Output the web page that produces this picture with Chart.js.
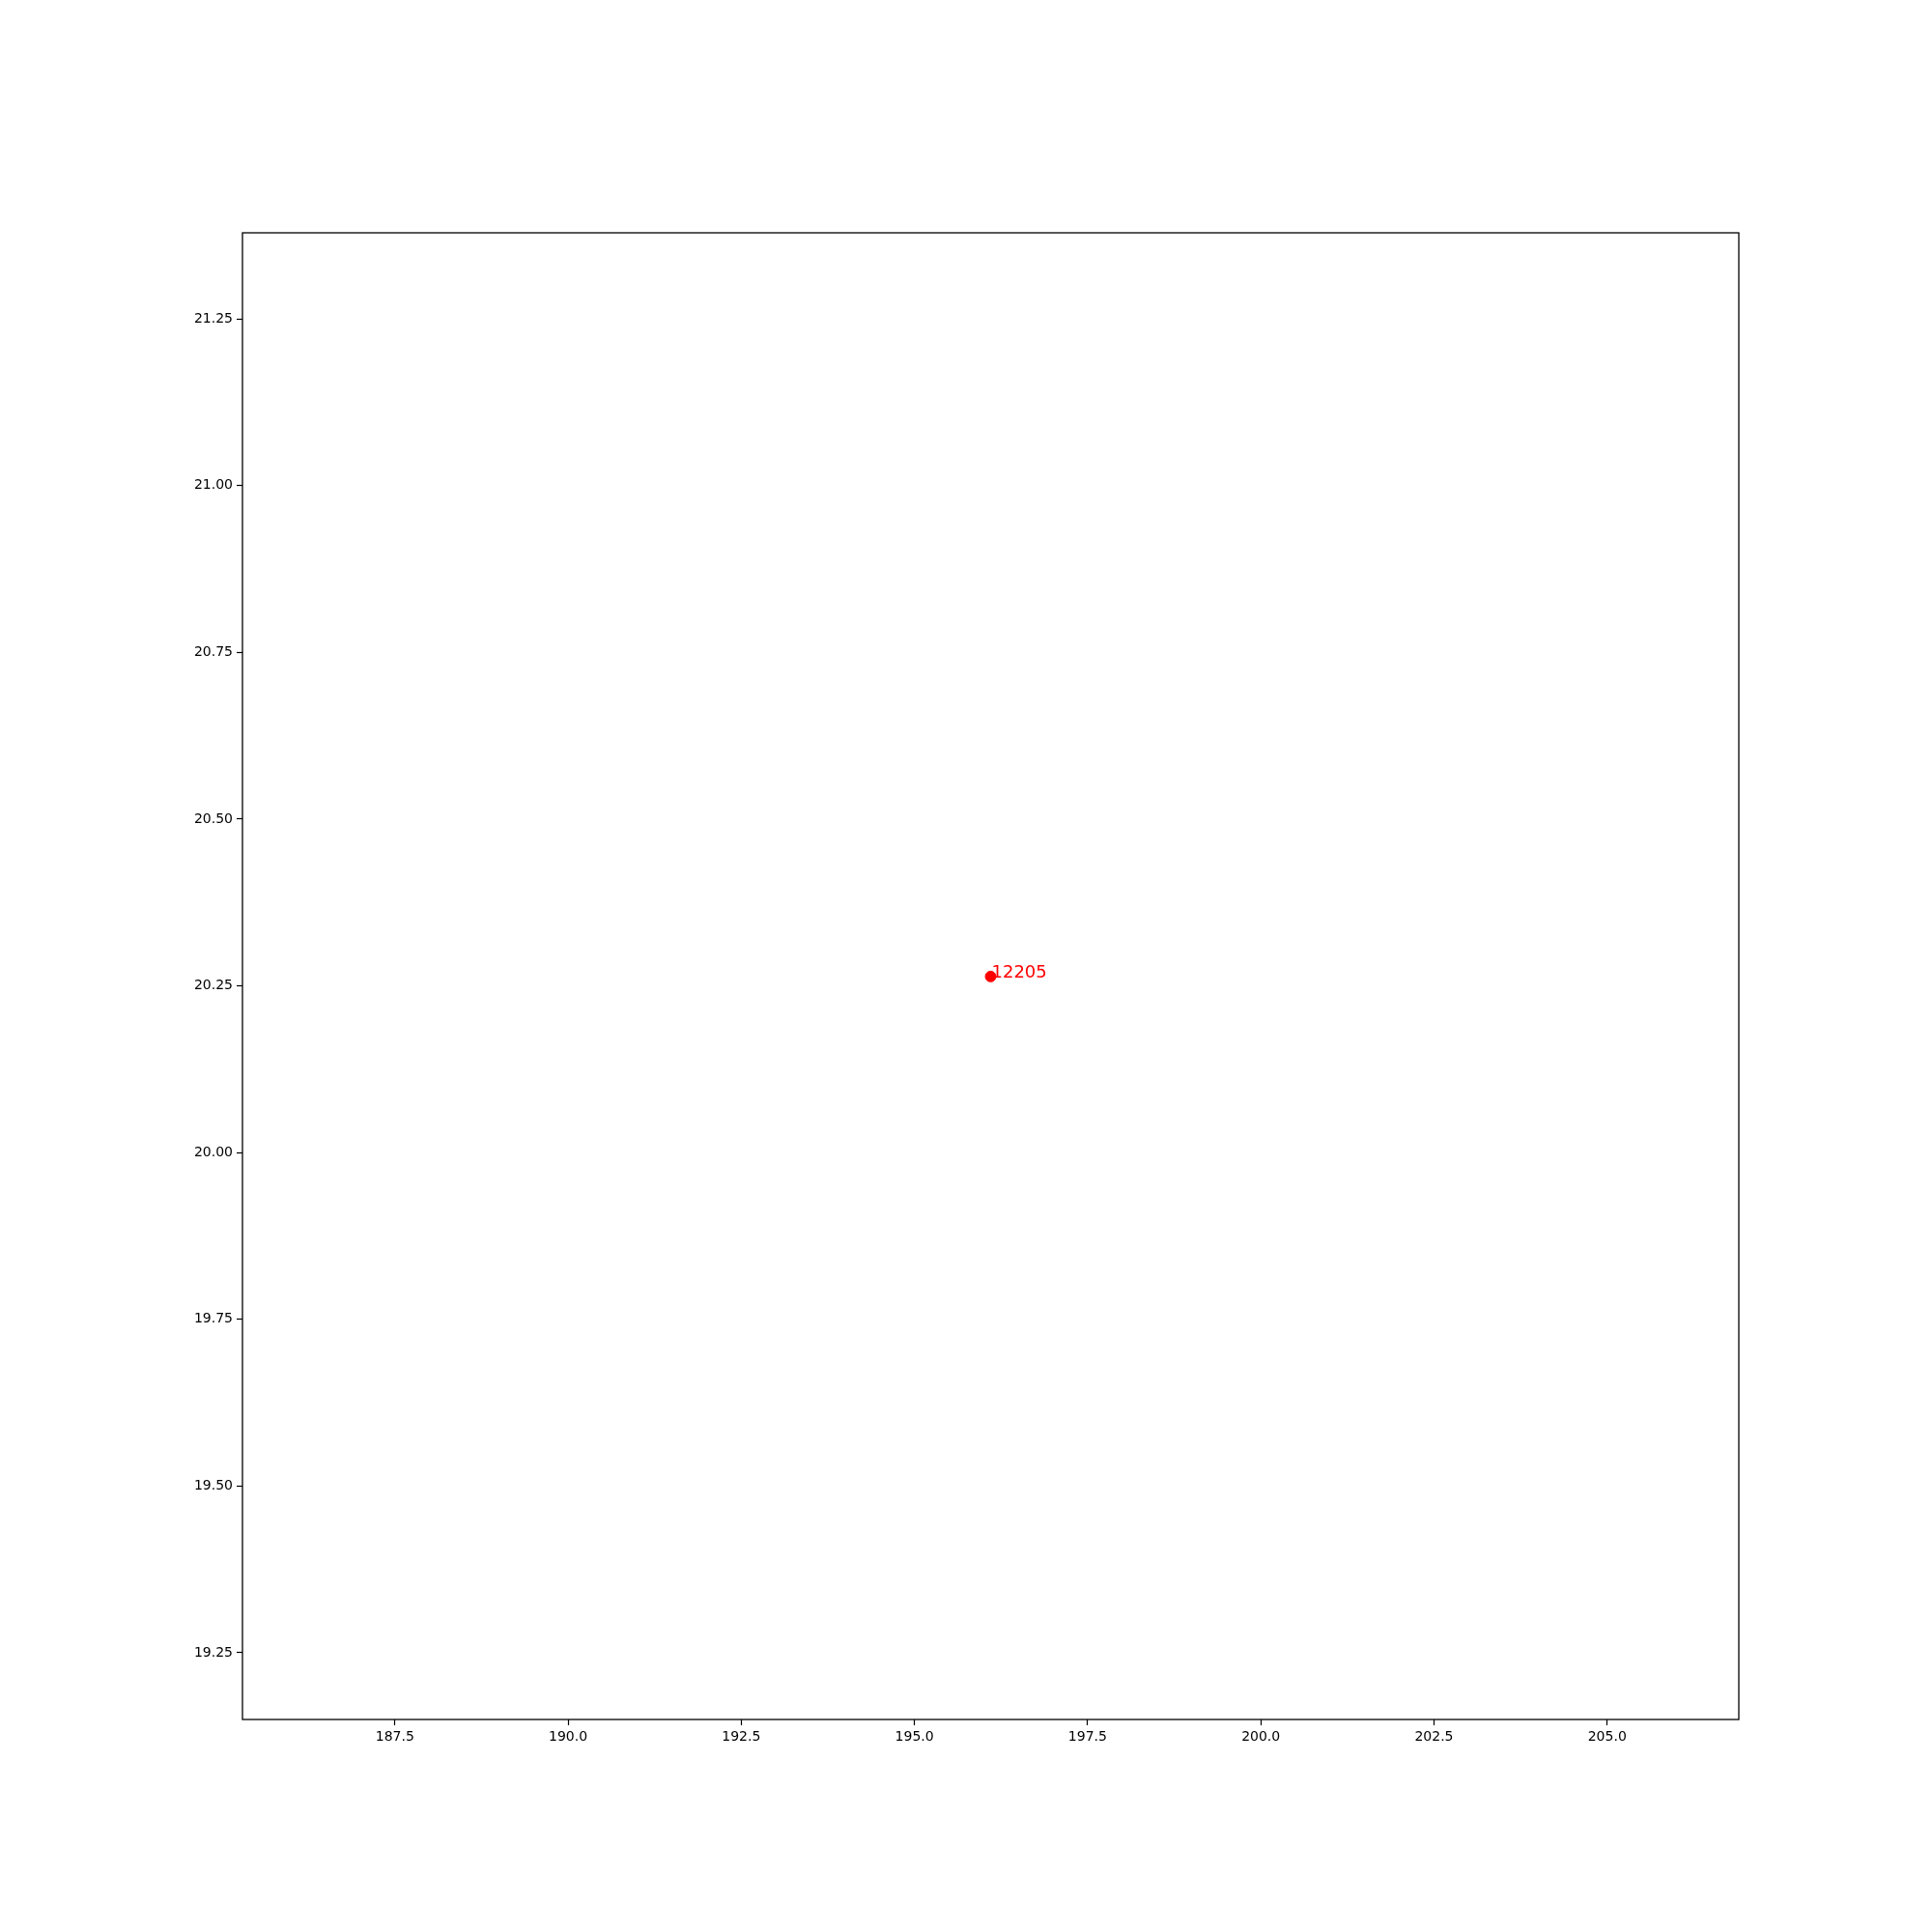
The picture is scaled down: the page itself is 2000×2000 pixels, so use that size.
<!DOCTYPE html>
<html>
<head>
<meta charset="utf-8">
<script src="https://cdn.jsdelivr.net/npm/chart.js@4"></script>
<style>
  html, body { margin: 0; background: #fff; }
  #wrap { width: 2000px; height: 2000px; }
</style>
</head>
<body>
<div id="wrap"><canvas id="c" width="2000" height="2000"></canvas></div>
<script>
const xs = [196.1];
const ys = [20.264];
const labels = ["12205"];
const xTicks = [187.5, 190.0, 192.5, 195.0, 197.5, 200.0, 202.5, 205.0];
const yTicks = [19.25, 19.50, 19.75, 20.00, 20.25, 20.50, 20.75, 21.00, 21.25];

Chart.defaults.font.family = "DejaVu Sans";
Chart.defaults.font.size = 14;
Chart.defaults.color = "#000";

const frame = {
  id: "frame",
  afterDraw(chart) {
    const { ctx, chartArea: a } = chart;
    ctx.save();
    ctx.strokeStyle = "#000";
    ctx.lineWidth = 1.3;
    ctx.strokeRect(a.left, a.top, a.right - a.left, a.bottom - a.top);
    ctx.restore();
  }
};

const pointLabels = {
  id: "pointLabels",
  afterDatasetsDraw(chart) {
    const { ctx } = chart;
    const meta = chart.getDatasetMeta(0);
    ctx.save();
    ctx.fillStyle = "red";
    ctx.font = "18px DejaVu Sans";
    ctx.textBaseline = "alphabetic";
    meta.data.forEach((p, i) => {
      ctx.fillText(labels[i], p.x + 1, p.y + 1);
    });
    ctx.restore();
  }
};

new Chart(document.getElementById("c"), {
  type: "scatter",
  data: {
    datasets: [{
      data: xs.map((x, i) => ({ x, y: ys[i] })),
      backgroundColor: "red",
      borderColor: "red",
      pointRadius: 5.5,
      pointHoverRadius: 5.5
    }]
  },
  options: {
    responsive: false,
    animation: false,
    events: [],
    layout: { padding: { top: 241, right: 200, left: 0, bottom: 0 } },
    plugins: { legend: { display: false }, tooltip: { enabled: false } },
    scales: {
      x: {
        type: "linear",
        min: 185.3,
        max: 206.9,
        afterBuildTicks: s => { s.ticks = xTicks.map(v => ({ value: v })); },
        afterFit: s => { s.height = 220; },
        grid: { drawOnChartArea: false, tickLength: 6, color: "#000", tickWidth: 1.2 },
        border: { display: false },
        ticks: { padding: 4, maxRotation: 0, callback: v => v.toFixed(1) }
      },
      y: {
        type: "linear",
        min: 19.15,
        max: 21.379,
        afterBuildTicks: s => { s.ticks = yTicks.map(v => ({ value: v })); },
        afterFit: s => { s.width = 251; },
        grid: { drawOnChartArea: false, tickLength: 6, color: "#000", tickWidth: 1.2 },
        border: { display: false },
        ticks: { padding: 4, callback: v => v.toFixed(2) }
      }
    }
  },
  plugins: [frame, pointLabels]
});
</script>
</body>
</html>
